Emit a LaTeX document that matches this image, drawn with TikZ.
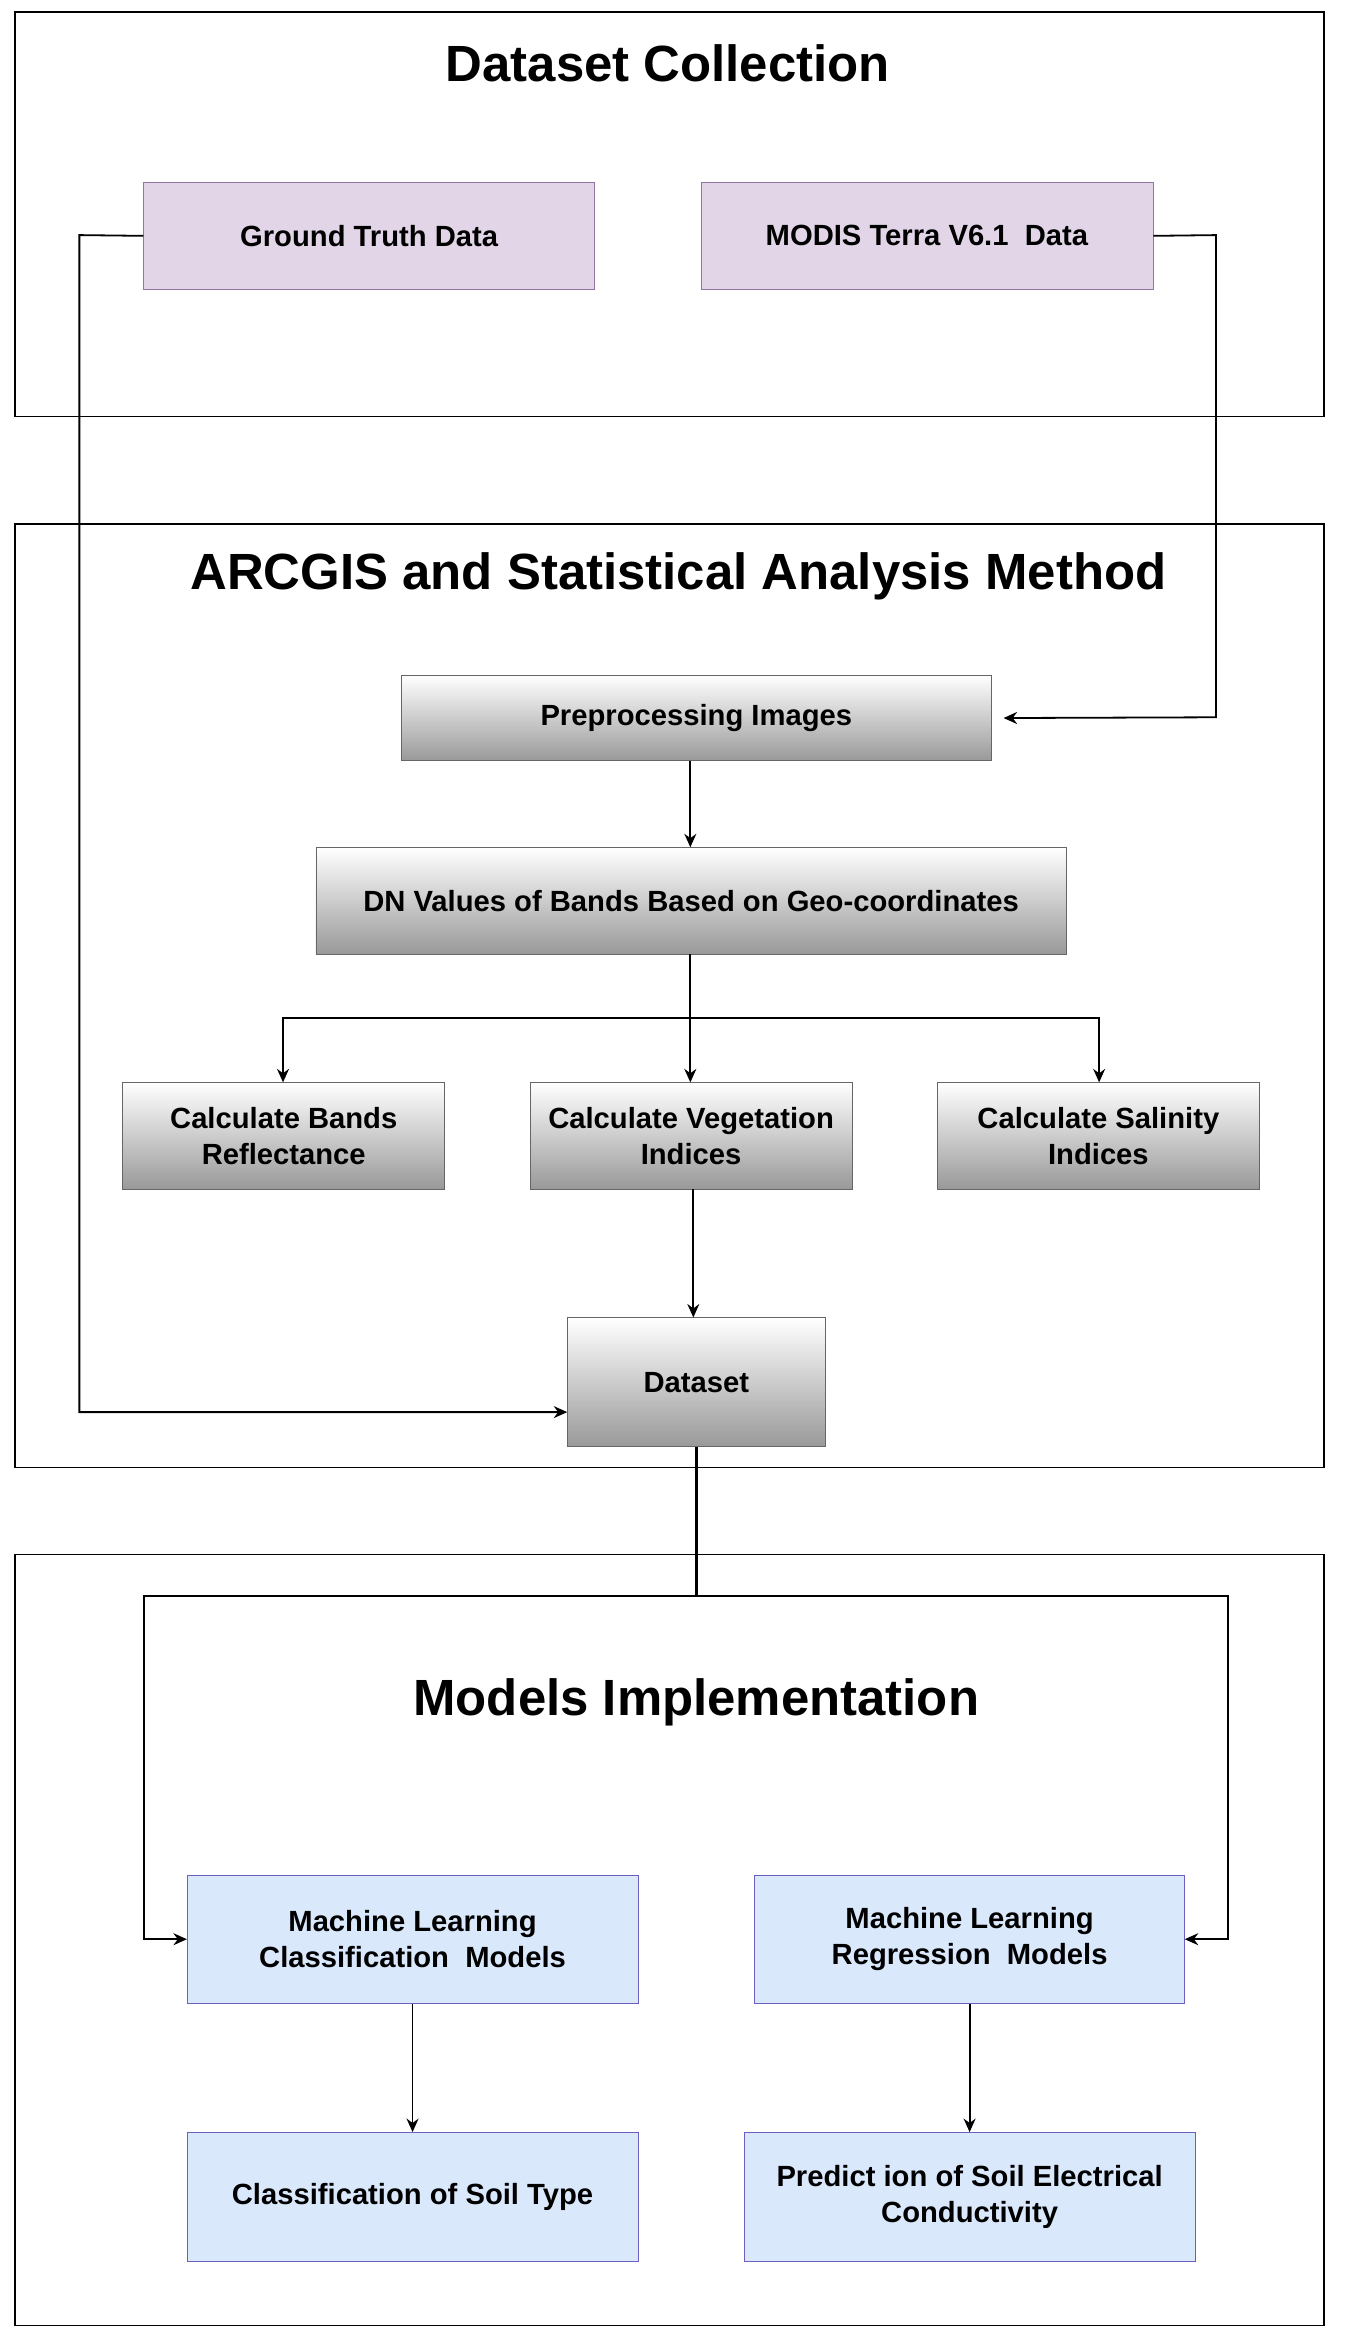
\documentclass[tikz,border=0pt]{standalone}
\usepackage{fontspec}
\setmainfont{Liberation Sans}
\usetikzlibrary{arrows.meta}
\definecolor{lavf}{HTML}{E1D5E7}\definecolor{lavd}{HTML}{9673A6}
\definecolor{bluf}{HTML}{DAE8FC}\definecolor{blud}{HTML}{6C5FBF}
\begin{document}
\begin{tikzpicture}[x=1pt,y=-1pt,
 frame/.style={draw=black,line width=1pt},
 ttl/.style={font=\fontsize{34}{38}\selectfont\bfseries},
 bx/.style={draw,minimum width=#1,align=center,font=\fontsize{19.5}{24}\selectfont\bfseries,inner sep=0pt},
 lav/.style={bx=#1,fill=lavf,draw=lavd,minimum height=71},
 gr/.style={bx=#1,top color=white,bottom color=black!40,draw=black!60},
 bl/.style={bx=#1,fill=bluf,draw=blud,minimum height=86},
 ln/.style={line width=1.2pt},
 ar/.style={ln,-{Stealth[length=9pt,width=8pt]}}]
\useasboundingbox (0,0) rectangle (900,1568);
\fill[white] (0,0) rectangle (900,1568);
\draw[frame] (10,8) rectangle (884,278);
\draw[frame] (10,350) rectangle (884,980);
\draw[frame] (10,1038) rectangle (884,1553);
\node[ttl] (t1) at (446,42) {Dataset Collection};
\node[ttl] (t2) at (453,385) {ARCGIS and Statistical Analysis Method};
\node[ttl] (t3) at (465,1137) {Models Implementation};
\node[lav=301] (gt) at (246.5,157.5) {Ground Truth Data};
\node[lav=302] (mo) at (619,157.5) {MODIS Terra V6.1\ \ Data};
\node[gr=394,minimum height=57] (pp) at (465,479.5) {Preprocessing Images};
\node[gr=501,minimum height=71] (dn) at (461.5,601.5) {DN Values of Bands Based on Geo-coordinates};
\node[gr=215,minimum height=71] (cb) at (189.5,758.5) {Calculate Bands\\Reflectance};
\node[gr=215,minimum height=71] (cv) at (461.5,758.5) {Calculate Vegetation\\Indices};
\node[gr=215,minimum height=71] (cs) at (733.5,758.5) {Calculate Salinity\\Indices};
\node[gr=172,minimum height=86] (ds) at (465,923) {Dataset};
\node[bl=301] (mc) at (275.5,1295) {Machine Learning\\Classification\ \ Models};
\node[bl=287] (mr) at (647.5,1295) {Machine Learning\\Regression\ \ Models};
\node[bl=301] (cl) at (275.5,1467) {Classification of Soil Type};
\node[bl=301] (pr) at (647.5,1467) {Predict ion of Soil Electrical\\Conductivity};
\coordinate (j1) at (461,680);
\coordinate (j2) at (465,1066);
\draw[ar] (gt.west) -- (53,157) -- (53,943) -- (ds.west|-0,943);
\draw[ar] (mo.east) -- (812,157) -- (812,479) -- ([xshift=8]pp.east);
\draw[ar] (pp.south-|461,0) -- (dn.north-|461,0);
\draw[ln] (dn.south-|461,0) -- (j1);
\draw[ar] (j1) -- (189,680) -- (cb.north-|189,0);
\draw[ar] (j1) -- (734,680) -- (cs.north-|734,0);
\draw[ar] (j1) -- (cv.north-|461,0);
\draw[ar] (cv.south-|463,0) -- (ds.north-|463,0);
\draw[line width=2.2pt] (ds.south) -- (j2);
\draw[ar] (j2) -- (96,1066) -- (96,1295) -- (mc.west);
\draw[ar] (j2) -- (820,1066) -- (820,1295) -- (mr.east);
\draw[ar] (mc.south) -- (cl.north);
\draw[ar] (mr.south) -- (pr.north);
\end{tikzpicture}
\end{document}
